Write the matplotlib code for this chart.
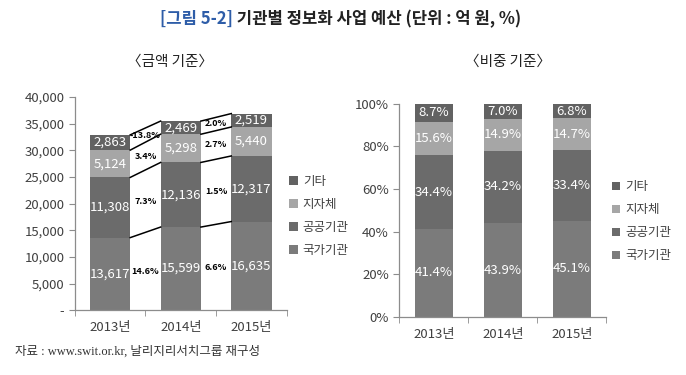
import numpy as np
import matplotlib
matplotlib.use("Agg")
import matplotlib.pyplot as plt
from matplotlib.patches import Patch

plt.rcParams['font.family'] = ['Noto Sans CJK KR', 'DejaVu Sans']

# 데이터
years = ['2013년', '2014년', '2015년']
series = ['국가기관', '공공기관', '지자체', '기타']
amount_national = [13617, 15599, 16635]
amount_public = [11308, 12136, 12317]
amount_local = [5124, 5298, 5440]
amount_etc = [2863, 2469, 2519]
share_national = [41.4, 43.9, 45.1]
share_public = [34.4, 34.2, 33.4]
share_local = [15.6, 14.9, 14.7]
share_etc = [8.7, 7.0, 6.8]
growth_13_14 = [14.6, 7.3, 3.4, -13.8]
growth_14_15 = [6.6, 1.5, 2.7, 2.0]
amount_ticks = [0, 5000, 10000, 15000, 20000, 25000, 30000, 35000, 40000]
share_ticks = [0, 20, 40, 60, 80, 100]

colors = ['#7b7b7b', '#6b6b6b', '#a6a6a6', '#626262']
axis_color = '#8c8c8c'
text_color = '#404040'

fig = plt.figure(figsize=(6.86, 3.75), dpi=100)
fig.patch.set_facecolor('white')

fig.text(0.340, 0.950, '[그림 5-2]', color='#2e5da8', fontsize=12, fontweight='bold',
         ha='right', va='center')
fig.text(0.340, 0.950, ' 기관별 정보화 사업 예산 (단위 : 억 원, %)', color='#222222',
         fontsize=12, fontweight='bold', ha='left', va='center')
fig.text(0.248, 0.835, '〈금액 기준〉', fontsize=10.5, color='#222222', ha='center', va='center')
fig.text(0.740, 0.835, '〈비중 기준〉', fontsize=10.5, color='#222222', ha='center', va='center')
fig.text(0.022, 0.062, '자료 : www.swit.or.kr, 날리지리서치그룹 재구성', fontsize=9,
         color='#333333', family=['Liberation Serif', 'Noto Sans CJK KR'],
         ha='left', va='center')


def style_axes(ax):
    for s in ['top', 'right']:
        ax.spines[s].set_visible(False)
    for s in ['left', 'bottom']:
        ax.spines[s].set_color(axis_color)
        ax.spines[s].set_linewidth(0.9)
    ax.set_xlim(-0.5, 2.5)
    ax.set_xticks(range(3))
    ax.set_xticklabels(years, fontsize=9.5, color=text_color)
    ax.set_xticks([-0.5, 0.5, 1.5, 2.5], minor=True)
    ax.tick_params(axis='x', which='major', length=0, pad=8)
    ax.tick_params(axis='x', which='minor', length=4, color=axis_color, direction='out')
    ax.tick_params(axis='y', length=4, color=axis_color, labelsize=9.5,
                   labelcolor=text_color, direction='out')


x = np.arange(3)

# 금액 기준
ax1 = fig.add_axes([0.109, 0.173, 0.309, 0.568])
amounts = [amount_national, amount_public, amount_local, amount_etc]
w1 = 0.57
bottom = np.zeros(3)
cums = []
for vals, c in zip(amounts, colors):
    vals = np.array(vals, dtype=float)
    ax1.bar(x, vals, w1, bottom=bottom, color=c, edgecolor='none', zorder=2)
    for xi, b, v in zip(x, bottom, vals):
        ax1.text(xi, b + v / 2, f'{int(v):,}', color='white', fontsize=9.5,
                 ha='center', va='center', zorder=4)
    bottom = bottom + vals
    cums.append(bottom.copy())

for i, growth in enumerate([growth_13_14, growth_14_15]):
    lower = 0.0
    for cum, g in zip(cums, growth):
        ax1.plot([i + w1 / 2, i + 1 - w1 / 2], [cum[i], cum[i + 1]], color='black',
                 lw=1.1, zorder=3)
        upper = (cum[i] + cum[i + 1]) / 2
        ax1.text(i + 0.5, (lower + upper) / 2, f'{g:.1f}%', fontsize=6.5, fontweight='bold',
                 color='black', ha='center', va='center', zorder=4)
        lower = upper

ax1.set_ylim(0, 40000)
ax1.set_yticks(amount_ticks)
ax1.set_yticklabels(['-' if t == 0 else f'{t:,}' for t in amount_ticks])
style_axes(ax1)

handles = [Patch(facecolor=c, edgecolor='none') for c in colors]
ax1.legend(handles[::-1], series[::-1], loc='center left', bbox_to_anchor=(0.405, 0.424),
           bbox_transform=fig.transFigure, frameon=False, fontsize=9,
           handlelength=0.7, handleheight=0.7, handletextpad=0.4, labelspacing=0.8,
           labelcolor=text_color)

# 비중 기준
ax2 = fig.add_axes([0.582, 0.155, 0.302, 0.568])
shares = [share_national, share_public, share_local, share_etc]
w2 = 0.55
bottom = np.zeros(3)
for vals, c in zip(shares, colors):
    vals = np.array(vals, dtype=float)
    ax2.bar(x, vals, w2, bottom=bottom, color=c, edgecolor='none', zorder=2)
    for xi, b, v in zip(x, bottom, vals):
        ax2.text(xi, b + v / 2, f'{v:.1f}%', color='white', fontsize=9.5,
                 ha='center', va='center', zorder=4)
    bottom = bottom + vals

ax2.set_ylim(0, 100)
ax2.set_yticks(share_ticks)
ax2.set_yticklabels([f'{t}%' for t in share_ticks])
style_axes(ax2)
ax2.legend(handles[::-1], series[::-1], loc='center left', bbox_to_anchor=(0.875, 0.41),
           bbox_transform=fig.transFigure, frameon=False, fontsize=9,
           handlelength=0.7, handleheight=0.7, handletextpad=0.4, labelspacing=0.8,
           labelcolor=text_color)

fig.savefig('out.png', dpi=100)
